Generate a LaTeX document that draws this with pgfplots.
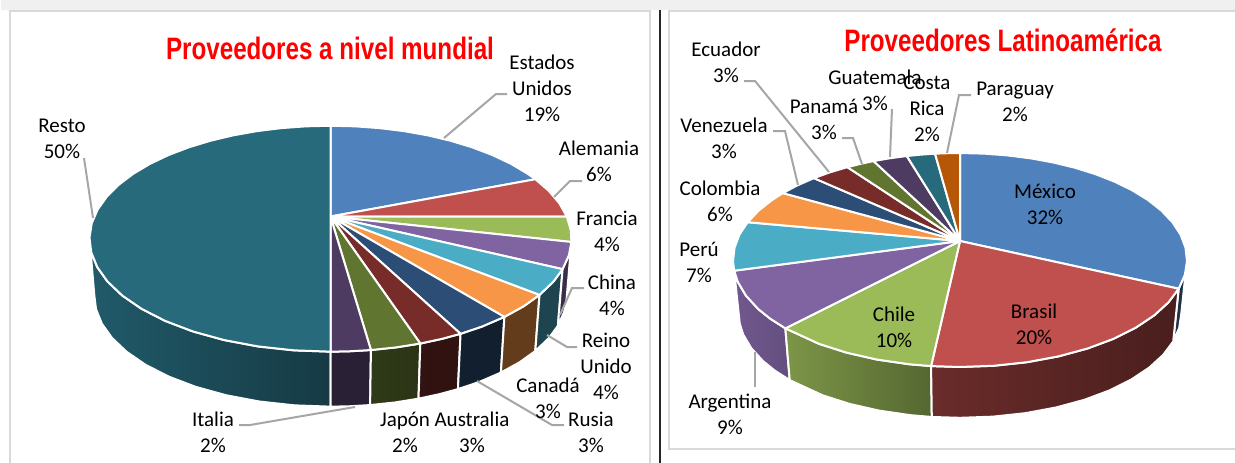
\documentclass[border=0pt]{standalone}
\usepackage{pgfplots}
\pgfplotsset{compat=1.18}
\usepackage{graphicx}
\usepackage{fontspec}
\setmainfont{Carlito}
\newfontfamily\titlef{Liberation Sans}
\definecolor{c1}{HTML}{4F81BD}\definecolor{c2}{HTML}{C0504D}\definecolor{c3}{HTML}{9BBB59}
\definecolor{c4}{HTML}{8064A2}\definecolor{c5}{HTML}{4BACC6}\definecolor{c6}{HTML}{F79646}
\definecolor{c7}{HTML}{2C4D75}\definecolor{c8}{HTML}{772C2A}\definecolor{c9}{HTML}{5F7530}
\definecolor{c10}{HTML}{4D3B62}\definecolor{c11}{HTML}{276A7C}\definecolor{c12}{HTML}{B65708}
\definecolor{leader}{HTML}{A6A6A6}\definecolor{panel}{HTML}{D9D9D9}
% top face: t = cumulative percent round the pie, r = 0 apex / 1 rim
\newcommand\TX[3]{#1+\thisrow{r}*#2*sin(3.6*\thisrow{t})/(1+#3*cos(3.6*\thisrow{t}))}
\newcommand\TY[3]{#1-\thisrow{r}*#2*cos(3.6*\thisrow{t})/(1+#3*cos(3.6*\thisrow{t}))}
% side wall: d = 0 upper rim / 1 lower rim
\newcommand\WX[4]{#1+(1-(1-#4)*\thisrow{d})*#2*sin(3.6*\thisrow{t})/(1+#3*cos(3.6*\thisrow{t}))}
\newcommand\WY[5]{#1+\thisrow{d}*#5-(1-(1-#4)*\thisrow{d})*#2*cos(3.6*\thisrow{t})/(1+#3*cos(3.6*\thisrow{t}))}
\newcommand\LT[2]{\addplot[draw=white,line width=2pt,fill=#1,line join=round] table[row sep=\\,x expr={\TX{330.5}{236.3}{0.1965}},y expr={\TY{216.5}{108.6}{0.1965}}] {t r\\#2};}
\newcommand\RT[2]{\addplot[draw=white,line width=2pt,fill=#1,line join=round] table[row sep=\\,x expr={\TX{960}{223.4}{0.1776}},y expr={\TY{241}{103.6}{0.1776}}] {t r\\#2};}
\newcommand\LW[3]{\addplot[draw=white,line width=2pt,shade,left color=#1,right color=#2] table[row sep=\\,x expr={\WX{330.5}{236.3}{0.1965}{0.98}},y expr={\WY{216.5}{108.6}{0.1965}{0.98}{57.7}}] {t d\\#3};}
\newcommand\RW[3]{\addplot[draw=white,line width=2pt,shade,left color=#1,right color=#2] table[row sep=\\,x expr={\WX{960}{223.4}{0.1776}{0.975}},y expr={\WY{241}{103.6}{0.1776}{0.975}{54}}] {t d\\#3};}
\newcommand\leaderline[1]{\addplot[leader,line width=2pt] coordinates {#1};}
\newcommand\lab[3]{\node[align=center,inner sep=0pt,text=black,font=\fontsize{21}{26}\selectfont] at (axis cs:#1,#2) {#3};}
\begin{document}
\begin{tikzpicture}
\begin{axis}[width=1235pt,height=463pt,scale only axis,xmin=0,xmax=1235,ymin=0,ymax=463,y dir=reverse,hide axis]
% page and panels
\addplot[draw=none,fill=white] coordinates {(0,0)(1235,0)(1235,463)(0,463)(0,0)};
\addplot[draw=none,fill=black!6] coordinates {(1,0)(1235,0)(1235,10)(1,10)(1,0)};
\addplot[panel,line width=2pt] coordinates {(10,470)(10,11)(650,11)(650,470)};
\addplot[panel,line width=2pt] coordinates {(1240,449)(669,449)(669,11)(1240,11)};
\addplot[black!85,line width=2.2pt] coordinates {(660,10)(660,463)};
% left pie: walls
\LW{c11!85!black}{c11!55!black}{50 0\\52 0\\54 0\\56 0\\58 0\\60 0\\62 0\\64 0\\66 0\\68 0\\70 0\\71.9 0\\71.9 1\\70 1\\68 1\\66 1\\64 1\\62 1\\60 1\\58 1\\56 1\\54 1\\52 1\\50 1\\50 0\\}
\LW{c10!55!black}{c10!55!black}{47.8 0\\49 0\\50 0\\50 1\\49 1\\47.8 1\\47.8 0\\}
\LW{c9!50!black}{c9!45!black}{45 0\\46.4 0\\47.8 0\\47.8 1\\46.4 1\\45 1\\45 0\\}
\LW{c8!42!black}{c8!40!black}{42.5 0\\43.7 0\\45 0\\45 1\\43.7 1\\42.5 1\\42.5 0\\}
\LW{c7!40!black}{c7!40!black}{39.3 0\\41 0\\42.5 0\\42.5 1\\41 1\\39.3 1\\39.3 0\\}
\LW{c6!40!black}{c6!40!black}{35.9 0\\37.6 0\\39.3 0\\39.3 1\\37.6 1\\35.9 1\\35.9 0\\}
\LW{c5!40!black}{c5!40!black}{32.3 0\\34 0\\35.9 0\\35.9 1\\34 1\\32.3 1\\32.3 0\\}
\LW{c4!45!black}{c4!45!black}{28.6 0\\30.4 0\\32.3 0\\32.3 1\\30.4 1\\28.6 1\\28.6 0\\}
% left pie: top
\LT{c1}{0 0\\0 1\\2 1\\4 1\\6 1\\8 1\\10 1\\12 1\\14 1\\16 1\\18 1\\19 1\\0 0\\}
\LT{c2}{19 0\\19 1\\21 1\\23 1\\25 1\\19 0\\}
\LT{c3}{25 0\\25 1\\27 1\\28.6 1\\25 0\\}
\LT{c4}{28.6 0\\28.6 1\\30.4 1\\32.3 1\\28.6 0\\}
\LT{c5}{32.3 0\\32.3 1\\34 1\\35.9 1\\32.3 0\\}
\LT{c6}{35.9 0\\35.9 1\\37.6 1\\39.3 1\\35.9 0\\}
\LT{c7}{39.3 0\\39.3 1\\41 1\\42.5 1\\39.3 0\\}
\LT{c8}{42.5 0\\42.5 1\\43.7 1\\45 1\\42.5 0\\}
\LT{c9}{45 0\\45 1\\46.4 1\\47.8 1\\45 0\\}
\LT{c10}{47.8 0\\47.8 1\\49 1\\50 1\\47.8 0\\}
\LT{c11}{50 0\\50 1\\52 1\\54 1\\56 1\\58 1\\60 1\\62 1\\64 1\\66 1\\68 1\\70 1\\72 1\\74 1\\76 1\\78 1\\80 1\\82 1\\84 1\\86 1\\88 1\\90 1\\92 1\\94 1\\96 1\\98 1\\100 1\\50 0\\}
% right pie: walls
\RW{c4!88!black}{c4!78!black}{61.9 0\\63.5 0\\65 0\\67 0\\69 0\\70.6 0\\70.6 1\\69 1\\67 1\\65 1\\63.5 1\\61.9 1\\61.9 0\\}
\RW{c3!80!black}{c3!55!black}{51.7 0\\53 0\\55 0\\57 0\\59 0\\61.9 0\\61.9 1\\59 1\\57 1\\55 1\\53 1\\51.7 1\\51.7 0\\}
\RW{c1!40!black}{c1!35!black}{27.8 0\\30 0\\32 0\\32 1\\30 1\\27.8 1\\27.8 0\\}
\RW{c2!55!black}{c2!38!black}{32 0\\34 0\\36 0\\38 0\\40 0\\42 0\\44 0\\46 0\\48 0\\50 0\\51.7 0\\51.7 1\\50 1\\48 1\\46 1\\44 1\\42 1\\40 1\\38 1\\36 1\\34 1\\32 1\\32 0\\}
% right pie: top
\RT{c1}{0 0\\0 1\\2 1\\4 1\\6 1\\8 1\\10 1\\12 1\\14 1\\16 1\\18 1\\20 1\\22 1\\24 1\\26 1\\28 1\\30 1\\32 1\\0 0\\}
\RT{c2}{32 0\\32 1\\34 1\\36 1\\38 1\\40 1\\42 1\\44 1\\46 1\\48 1\\50 1\\51.7 1\\32 0\\}
\RT{c3}{51.7 0\\51.7 1\\53 1\\55 1\\57 1\\59 1\\61.9 1\\51.7 0\\}
\RT{c4}{61.9 0\\61.9 1\\63.5 1\\65 1\\67 1\\69 1\\70.6 1\\61.9 0\\}
\RT{c5}{70.6 0\\70.6 1\\72 1\\74 1\\76 1\\78 1\\70.6 0\\}
\RT{c6}{78 0\\78 1\\80 1\\82 1\\83.4 1\\78 0\\}
\RT{c7}{83.4 0\\83.4 1\\85 1\\86.9 1\\83.4 0\\}
\RT{c8}{86.9 0\\86.9 1\\88.5 1\\90.2 1\\86.9 0\\}
\RT{c9}{90.2 0\\90.2 1\\91.4 1\\92.6 1\\90.2 0\\}
\RT{c10}{92.6 0\\92.6 1\\94 1\\95.5 1\\92.6 0\\}
\RT{c11}{95.5 0\\95.5 1\\96.7 1\\97.9 1\\95.5 0\\}
\RT{c12}{97.9 0\\97.9 1\\99 1\\100 1\\97.9 0\\}
% leader lines
\leaderline{(444,138)(496,94)(507,94)}
\leaderline{(554,197)(570,181)(582,181)}
\leaderline{(84,158)(93,218)}
\leaderline{(560,315)(572,288)(584,288)}
\leaderline{(547,335)(567,347)(577,347)}
\leaderline{(477,381)(552,425)(564,425)}
\leaderline{(239,425)(250,425)(355,407)}
\leaderline{(744,81)(755,81)(829,172)}
\leaderline{(773,131)(785,131)(798,185)}
\leaderline{(842,138)(853,138)(862,164)}
\leaderline{(892,109)(890,157)}
\leaderline{(971,95)(959,95)(947,153)}
\leaderline{(755,352)(755,387)}
% titles
\node[text=red,inner sep=0pt] at (axis cs:330,48) {\scalebox{0.78}[1]{\fontsize{31}{33}\selectfont\titlef\bfseries Proveedores a nivel mundial}};
\node[text=red,inner sep=0pt] at (axis cs:1003,40) {\scalebox{0.78}[1]{\fontsize{31}{33}\selectfont\titlef\bfseries Proveedores Latinoamérica}};
% labels
\lab{542}{88}{Estados\\Unidos\\19\%}
\lab{599}{161}{Alemania\\6\%}
\lab{607}{231}{Francia\\4\%}
\lab{612}{295}{China\\4\%}
\lab{606}{366}{Reino\\Unido\\4\%}
\lab{548}{398}{Canadá\\3\%}
\lab{591}{432}{Rusia\\3\%}
\lab{472}{432}{Australia\\3\%}
\lab{405}{432}{Japón\\2\%}
\lab{213}{432}{Italia\\2\%}
\lab{62}{139}{Resto\\50\%}
\lab{726}{62}{Ecuador\\3\%}
\lab{724}{138}{Venezuela\\3\%}
\lab{720}{201}{Colombia\\6\%}
\lab{699}{262}{Perú\\7\%}
\lab{824}{119}{Panamá\\3\%}
\lab{875}{90}{Guatemala\\3\%}
\lab{927}{109}{Costa\\Rica\\2\%}
\lab{1015}{102}{Paraguay\\2\%}
\lab{1045}{204}{México\\32\%}
\lab{1034}{324}{Brasil\\20\%}
\lab{894}{327}{Chile\\10\%}
\lab{730}{414}{Argentina\\9\%}
\end{axis}
\end{tikzpicture}
\end{document}
